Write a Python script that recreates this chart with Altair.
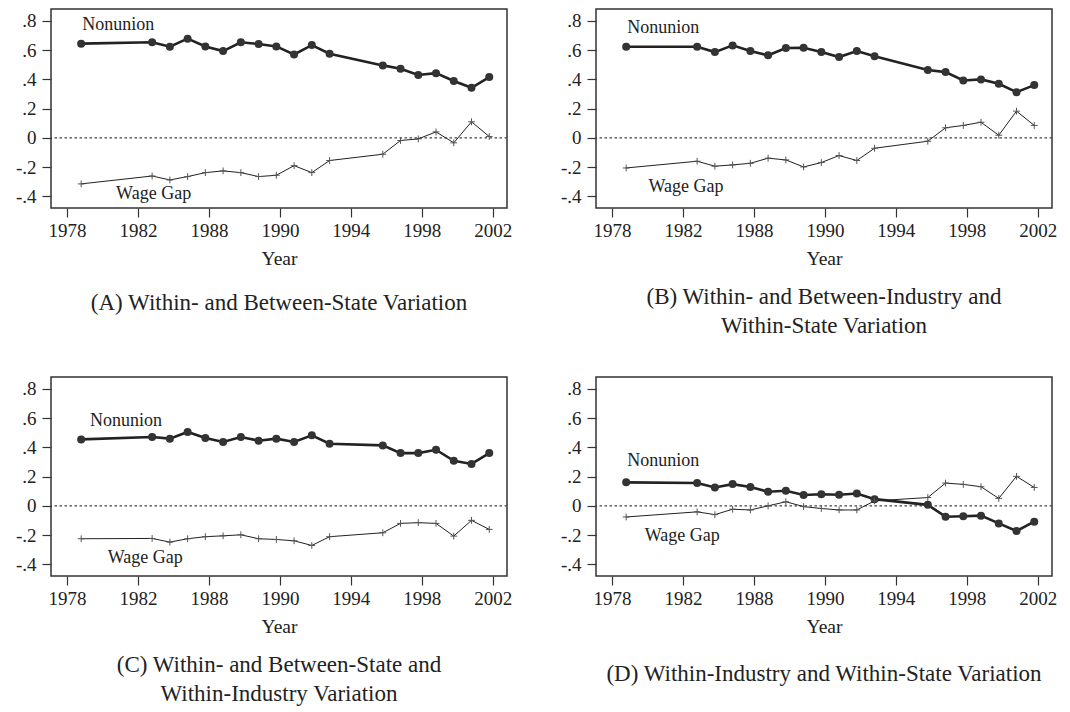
import altair as alt
import pandas as pd

years = [1979, 1983, 1984, 1985, 1986, 1987, 1988, 1989, 1990, 1991, 1992, 1993,
         1996, 1997, 1998, 1999, 2000, 2001, 2002]

a_nonunion = [0.645, 0.654, 0.624, 0.679, 0.626, 0.594, 0.654, 0.642, 0.626, 0.571,
              0.635, 0.576, 0.496, 0.473, 0.430, 0.443, 0.389, 0.343, 0.416]
a_gap = [-0.315, -0.261, -0.288, -0.265, -0.238, -0.226, -0.238, -0.265, -0.256, -0.190,
         -0.238, -0.155, -0.112, -0.018, -0.007, 0.041, -0.034, 0.110, 0.009]

b_nonunion = [0.624, 0.624, 0.587, 0.633, 0.594, 0.565, 0.615, 0.617, 0.587, 0.553,
              0.594, 0.558, 0.464, 0.450, 0.393, 0.400, 0.370, 0.313, 0.361]
b_gap = [-0.206, -0.160, -0.194, -0.185, -0.174, -0.139, -0.151, -0.199, -0.169, -0.121,
         -0.155, -0.071, -0.023, 0.069, 0.085, 0.107, 0.018, 0.183, 0.085]

c_nonunion = [0.455, 0.471, 0.460, 0.506, 0.464, 0.437, 0.471, 0.446, 0.460, 0.437,
              0.483, 0.425, 0.414, 0.361, 0.361, 0.384, 0.308, 0.287, 0.361]
c_gap = [-0.225, -0.223, -0.248, -0.225, -0.211, -0.205, -0.198, -0.225, -0.230, -0.239,
         -0.271, -0.211, -0.184, -0.120, -0.115, -0.120, -0.207, -0.099, -0.161]

d_nonunion = [0.161, 0.156, 0.126, 0.149, 0.129, 0.097, 0.103, 0.074, 0.080, 0.076,
              0.085, 0.046, 0.007, -0.074, -0.071, -0.067, -0.120, -0.172, -0.108]
d_gap = [-0.076, -0.041, -0.060, -0.023, -0.028, 0.000, 0.028, -0.005, -0.018, -0.028,
         -0.028, 0.034, 0.057, 0.156, 0.147, 0.131, 0.051, 0.202, 0.126]

panel_titles = [
    "(A) Within- and Between-State Variation",
    ["(B) Within- and Between-Industry and", "Within-State Variation"],
    ["(C) Within- and Between-State and", "Within-Industry Variation"],
    "(D) Within-Industry and Within-State Variation",
]

# annotation anchor positions (year, value) per panel
nonunion_label_x = [1979.06, 1979.06, 1979.5, 1979.06]
nonunion_label_y = [0.735, 0.719, 0.547, 0.271]
gap_label_x = [1980.97, 1980.26, 1980.5, 1980.05]
gap_label_y = [-0.415, -0.37, -0.39, -0.241]

x_tick_values = [1978.2, 1982.2, 1986.2, 1990.2, 1994.2, 1998.2, 2002.2]
x_tick_labels = ["1978", "1982", "1988", "1990", "1994", "1998", "2002"]
y_tick_values = [-0.4, -0.2, 0.0, 0.2, 0.4, 0.6, 0.8]
y_tick_labels = ["-.4", "-.2", "0", ".2", ".4", ".6", ".8"]

FONT = "Liberation Serif"
INK = "#222222"


def label_expr(values, labels):
    expr = "''"
    for v, l in reversed(list(zip(values, labels))):
        expr = f"abs(datum.value - ({v})) < 0.01 ? '{l}' : ({expr})"
    return expr


x_scale = alt.Scale(domain=[1977.3, 2003.0], nice=False, zero=False)
y_scale = alt.Scale(domain=[-0.48, 0.882], nice=False, zero=False)

x_axis = alt.Axis(values=x_tick_values, labelExpr=label_expr(x_tick_values, x_tick_labels),
                  title="Year", tickSize=9, labelPadding=4, titlePadding=9,
                  labelFont=FONT, titleFont=FONT,
                  labelFontSize=19, titleFontSize=19.5, labelFlush=False)
y_axis = alt.Axis(values=y_tick_values, labelExpr=label_expr(y_tick_values, y_tick_labels),
                  title=None, tickSize=9, labelPadding=6, labelFontSize=19,
                  labelFont=FONT, minExtent=42, maxExtent=42)

series_nonunion = [a_nonunion, b_nonunion, c_nonunion, d_nonunion]
series_gap = [a_gap, b_gap, c_gap, d_gap]


def panel(i):
    df = pd.DataFrame({"year": years, "nonunion": series_nonunion[i], "gap": series_gap[i]})
    base = alt.Chart(df)
    x = alt.X("year:Q", scale=x_scale, axis=x_axis)
    zero = alt.Chart(pd.DataFrame({"zero": [0.0]})).mark_rule(
        color="#444444", strokeWidth=1.3, strokeDash=[2.5, 2.5]
    ).encode(y=alt.Y("zero:Q", scale=y_scale, axis=y_axis))
    non_line = base.mark_line(color=INK, strokeWidth=2.6).encode(
        x=x, y=alt.Y("nonunion:Q", scale=y_scale, axis=y_axis))
    non_pts = base.mark_point(shape="circle", filled=True, size=64, color="#333333",
                              opacity=1).encode(
        x=x, y=alt.Y("nonunion:Q", scale=y_scale, axis=y_axis))
    gap_line = base.mark_line(color=INK, strokeWidth=1).encode(
        x=x, y=alt.Y("gap:Q", scale=y_scale, axis=y_axis))
    gap_pts = base.mark_point(shape="M-1,0L1,0M0,-1L0,1", filled=False, size=46,
                              color="#555555", strokeWidth=1, opacity=1).encode(
        x=x, y=alt.Y("gap:Q", scale=y_scale, axis=y_axis))
    labels = pd.DataFrame({
        "lx": [nonunion_label_x[i], gap_label_x[i]],
        "ly": [nonunion_label_y[i], gap_label_y[i]],
        "text": ["Nonunion", "Wage Gap"],
    })
    text = alt.Chart(labels).mark_text(align="left", baseline="alphabetic", font=FONT,
                                       fontSize=18, color=INK).encode(
        x=alt.X("lx:Q", scale=x_scale, axis=x_axis),
        y=alt.Y("ly:Q", scale=y_scale, axis=y_axis),
        text="text:N")
    t = panel_titles[i]
    offset = [24, 18, 18, 27][i]
    return alt.layer(zero, non_line, non_pts, gap_line, gap_pts, text).properties(
        width=456, height=199,
        title=alt.TitleParams(text=t, orient="bottom", anchor="middle", font=FONT,
                              fontSize=23, fontWeight="normal", color=INK,
                              lineHeight=29, offset=offset),
    )


row1 = alt.hconcat(panel(0), panel(1), spacing=40)
row2 = alt.hconcat(panel(2), panel(3), spacing=40)
chart = alt.vconcat(row1, row2, spacing=37).properties(
    padding={"left": 0, "top": 0, "right": 0, "bottom": 0}
).configure_view(
    stroke="#333333", strokeWidth=1.5
).configure_axis(
    labelFont=FONT, titleFont=FONT, labelColor=INK, titleColor=INK,
    titleFontWeight="normal", tickColor="#333333", tickWidth=1.2,
    domain=False, grid=False
)

chart.save("out.html", embed_options={"renderer": "svg", "actions": False})
